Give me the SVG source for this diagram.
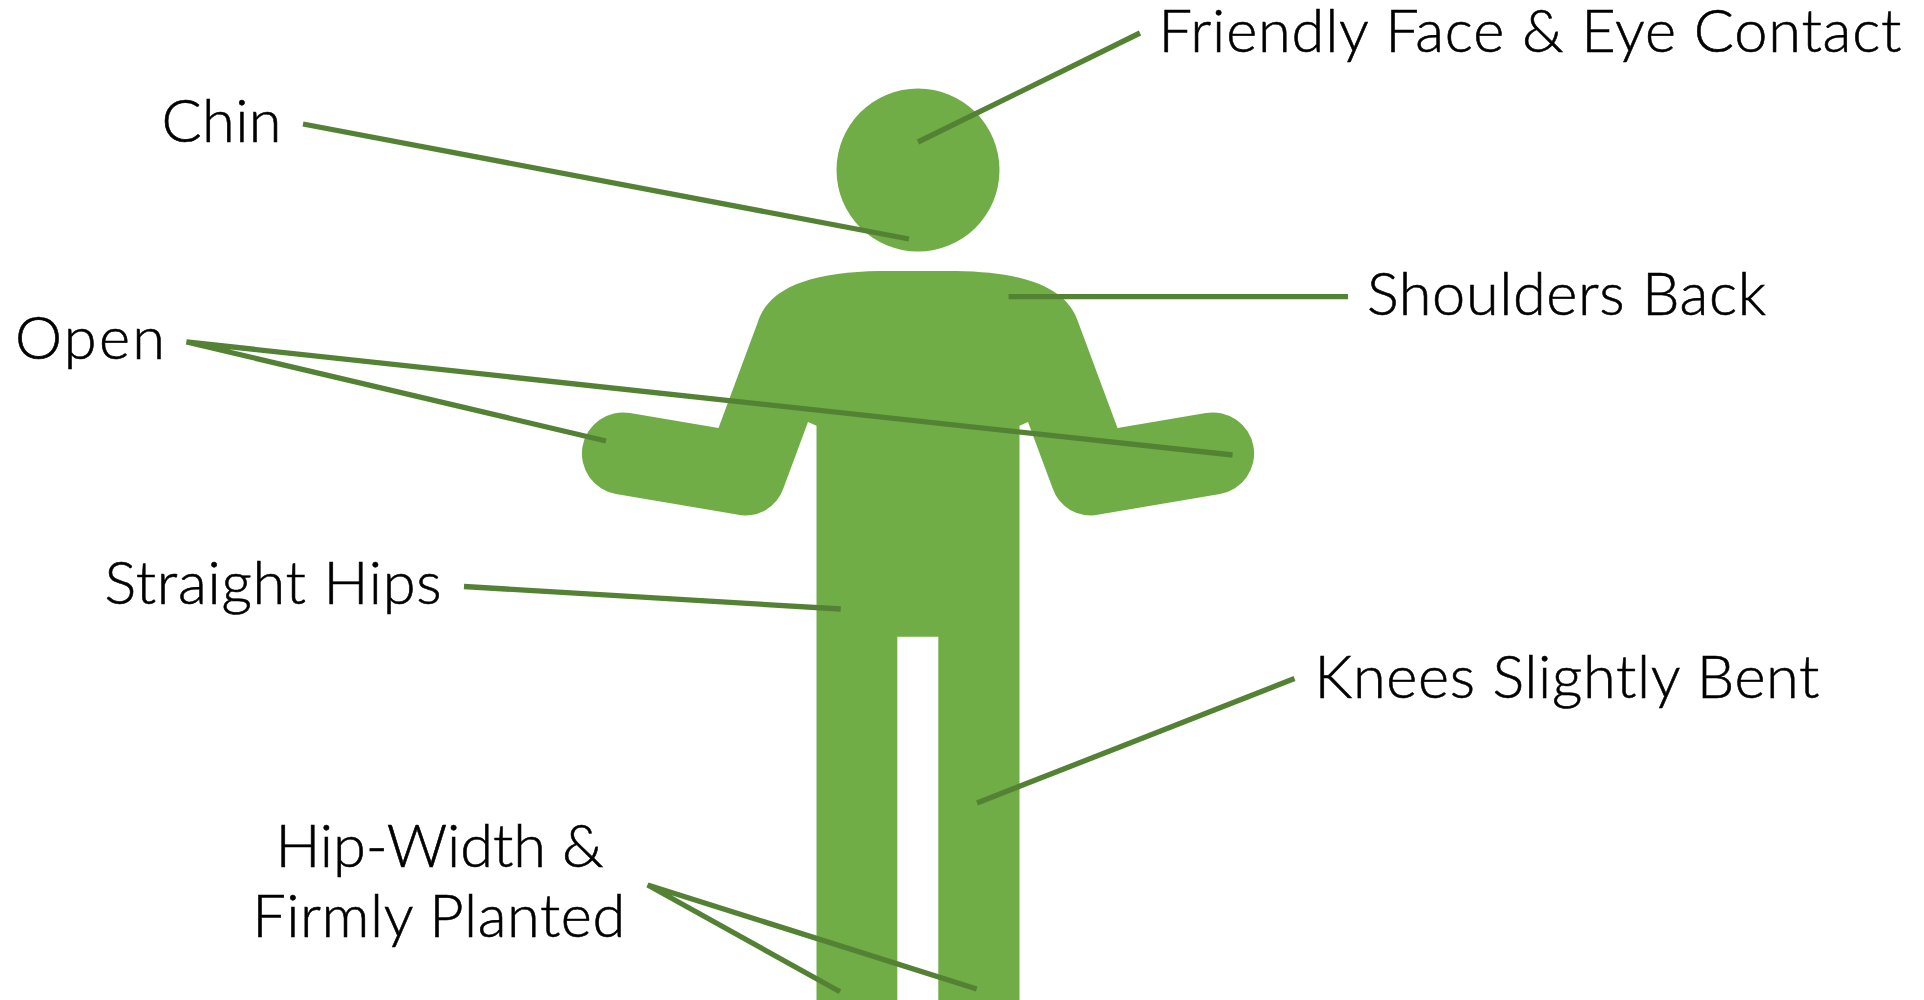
<svg xmlns="http://www.w3.org/2000/svg" width="1924" height="1000" viewBox="0 0 1924 1000">
<style>
.body{fill:#70AD47}
.ln{stroke:#548235;stroke-width:5.300;fill:none}
text{font-family:"Lato","Liberation Sans",sans-serif;font-weight:300;font-size:59.500px;fill:#000;stroke:#000;stroke-width:.6px}
</style>
<rect width="1924" height="1000" fill="#fff"/>
<g id="figure">
<circle class="body" cx="918" cy="170" r="81.500"/>
<path class="body" d="M880 271C810 272 768 288 757.500 323L718.500 428L630 413A41 41 0 0 0 616 494L737 514.500A40 40 0 0 0 783.500 488L808 422L816.500 425.700V1000H897.300V636.700H938.300V1000H1019.500V425.700L1028 422L1052.500 488A40 40 0 0 0 1099 514.500L1220 494A41 41 0 0 0 1206 413L1117.500 428L1078.500 323C1068 288 1026 272 956 271Z"/>
</g>
<g id="connectors">
<path class="ln" d="M1140 33L918 142"/>
<path class="ln" d="M303 124L909 239"/>
<path class="ln" d="M1348 296.700H1008.600"/>
<path class="ln" d="M606 441L186.500 342L1232.600 455"/>
<path class="ln" d="M464 586.500L840.700 609"/>
<path class="ln" d="M1294.500 678.500L977 803"/>
<path class="ln" d="M840 991.700L647.700 885L976.700 989"/>
</g>
<g id="label-face"><text x="1158.500" y="51.500" textLength="743">Friendly Face &amp; Eye Contact</text></g>
<g id="label-chin"><text x="161.500" y="141.700" textLength="120">Chin</text></g>
<g id="label-shoulders"><text x="1367" y="314.500" textLength="399">Shoulders Back</text></g>
<g id="label-open"><text x="15" y="359.300" textLength="150">Open</text></g>
<g id="label-hips"><text x="104.500" y="604" textLength="337">Straight Hips</text></g>
<g id="label-knees"><text x="1314.500" y="697.500" textLength="505">Knees Slightly Bent</text></g>
<g id="label-feet"><text x="275.500" y="866.700" textLength="328">Hip-Width &amp;</text><text x="252.200" y="936.500" textLength="373">Firmly Planted</text></g>
</svg>
